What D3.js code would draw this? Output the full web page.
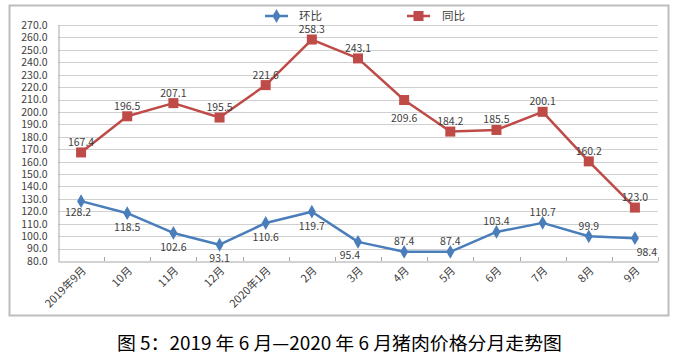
<!DOCTYPE html>
<html><head><meta charset="utf-8">
<script src="https://cdn.jsdelivr.net/npm/d3@7/dist/d3.min.js"></script>
<style>body{margin:0;background:#fff}svg{display:block}text{font-family:"Noto Sans CJK SC","Noto Sans",sans-serif}</style>
</head><body>
<svg id="c" width="688" height="358"></svg>
<script>
const categories = ["2019年9月","10月","11月","12月","2020年1月","2月","3月","4月","5月","6月","7月","8月","9月"];
const huanbi = [128.2,118.5,102.6,93.1,110.6,119.7,95.4,87.4,87.4,103.4,110.7,99.9,98.4];
const tongbi = [167.4,196.5,207.1,195.5,221.6,258.3,243.1,209.6,184.2,185.5,200.1,160.2,123.0];
const yTicks = d3.range(80, 271, 10);
const seriesNames = ["环比","同比"];
// label baseline offset from point (px), and horizontal shift
const huanbiDy = [15,18,18,17,18,18,17,-6.5,-6.5,-6.5,-6.5,-6.5,18];
const tongbiDy = [-6.5,-6.5,-6.5,-6.5,-6.5,-6.5,-6.5,22,-6.5,-6.5,-6.5,-6.5,-6.5];
const huanbiDx = [-3,0,0,0,0,0,-8,0,0,0,0,0,12];
const tongbiDx = [0,0,0,0,0,0,0,0,0,0,0,0,0];

const svg = d3.select("#c");
const blue = "#4A7EBB", red = "#BE4B48";
const L = 58, R = 658, T = 25, B = 261;
const numFont = "'Liberation Sans',Arial,sans-serif";

svg.append("rect").attr("x",9.5).attr("y",5.5).attr("width",659).attr("height",310)
  .attr("fill","#fff").attr("stroke","#BDBDBD").attr("stroke-width",2);

const x = d3.scaleBand().domain(categories).range([L,R]);
const y = d3.scaleLinear().domain([80,270]).range([B,T]);
const cx = d => x(d) + x.bandwidth()/2;

// grid
svg.append("g").selectAll("line").data(yTicks.slice(1)).join("line")
  .attr("x1",L).attr("x2",R).attr("y1",d=>Math.round(y(d))+0.5).attr("y2",d=>Math.round(y(d))+0.5)
  .attr("stroke","#D0D0D0").attr("stroke-width",1);

// y axis
const ya = d3.axisLeft(y).tickValues(yTicks).tickFormat(d3.format(".1f")).tickSize(0).tickPadding(11);
const yg = svg.append("g").attr("transform",`translate(${L+0.5},0)`).call(ya);
yg.select(".domain").attr("stroke","#A6A6A6");
yg.selectAll("text").attr("font-size",10.5).attr("fill","#404040").attr("font-family",numFont);

// x axis
const xa = d3.axisBottom(x).tickSize(0).tickPadding(6);
const xg = svg.append("g").attr("transform",`translate(0,${B+0.5})`).call(xa);
xg.select(".domain").attr("stroke","#A6A6A6");
xg.selectAll(".tick text").attr("font-size",11).attr("fill","#404040")
  .attr("text-anchor","end").attr("x",0).attr("y",0).attr("dx",0).attr("dy","0.35em")
  .attr("transform","translate(3,7) rotate(-45)");
// tick marks at band boundaries (inward)
const bounds = categories.slice(1).map(c=>x(c)).concat([R]);
svg.append("g").selectAll("line").data(bounds).join("line")
  .attr("x1",d=>Math.round(d)+0.5).attr("x2",d=>Math.round(d)+0.5).attr("y1",B-4).attr("y2",B)
  .attr("stroke","#A6A6A6");

const line = d3.line().x((d,i)=>cx(categories[i])).y(d=>y(d));

// lines
svg.append("path").datum(huanbi).attr("d",line).attr("fill","none").attr("stroke",blue).attr("stroke-width",2.5).attr("stroke-linejoin","round");
svg.append("path").datum(tongbi).attr("d",line).attr("fill","none").attr("stroke",red).attr("stroke-width",2.5).attr("stroke-linejoin","round");

// markers
const diamond = d3.symbol().type(d3.symbolDiamond).size(55);
svg.append("g").selectAll("path").data(huanbi).join("path")
  .attr("d",diamond).attr("transform",(d,i)=>`translate(${cx(categories[i])},${y(d)})`).attr("fill",blue);
svg.append("g").selectAll("rect").data(tongbi).join("rect")
  .attr("x",(d,i)=>cx(categories[i])-5).attr("y",d=>y(d)-5).attr("width",10).attr("height",10).attr("fill",red);

// data labels
const fmt = d3.format(".1f");
function labels(data,dys,dxs){
  svg.append("g").selectAll("text").data(data).join("text")
    .attr("x",(d,i)=>cx(categories[i])+dxs[i])
    .attr("y",(d,i)=>y(d) + dys[i])
    .attr("text-anchor","middle").attr("font-size",10.5).attr("fill","#404040")
    .attr("font-family",numFont)
    .text(d=>fmt(d));
}
labels(huanbi,huanbiDy,huanbiDx);
labels(tongbi,tongbiDy,tongbiDx);

// legend
const lg = svg.append("g");
lg.append("line").attr("x1",265).attr("x2",288).attr("y1",16).attr("y2",16).attr("stroke",blue).attr("stroke-width",2.5);
lg.append("path").attr("d",diamond).attr("transform","translate(276.5,16)").attr("fill",blue);
lg.append("text").attr("x",299).attr("y",19.5).attr("font-size",11.5).attr("fill","#404040").text(seriesNames[0]);
lg.append("line").attr("x1",407).attr("x2",430).attr("y1",16).attr("y2",16).attr("stroke",red).attr("stroke-width",2.5);
lg.append("rect").attr("x",413.5).attr("y",11).attr("width",10).attr("height",10).attr("fill",red);
lg.append("text").attr("x",442).attr("y",19.5).attr("font-size",11.5).attr("fill","#404040").text(seriesNames[1]);

// title
svg.append("text").attr("x",117).attr("y",350).attr("font-size",18).attr("fill","#000")
  .attr("textLength",445).attr("lengthAdjust","spacingAndGlyphs")
  .text("图 5：2019 年 6 月—2020 年 6 月猪肉价格分月走势图");
</script>
</body></html>
